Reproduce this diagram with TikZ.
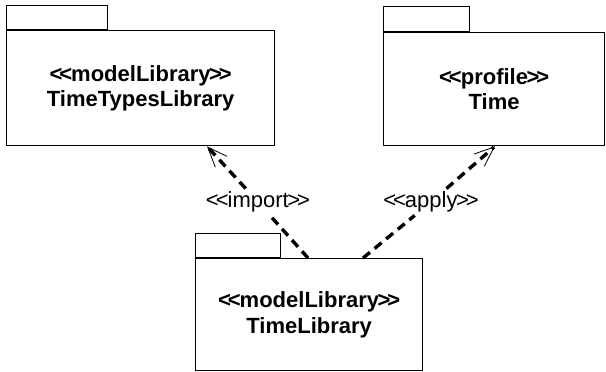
\documentclass[tikz,border=0pt]{standalone}
\usepackage{fontspec}
\setmainfont{Liberation Sans}
\usetikzlibrary{arrows.meta,calc}
\newcommand\stOpen{<\kern-3pt<\kern-1pt}
\newcommand\stClose{\kern-1.5pt>\kern-3pt>}
\begin{document}
\begin{tikzpicture}[x=1pt,y=-1pt,
  body/.style={draw,line width=1.3pt,inner sep=0pt,anchor=north west,align=center,
    font=\bfseries\fontsize{22}{25.5}\selectfont},
  tabbox/.style={draw,line width=1.1pt,inner sep=0pt,anchor=south west},
  dep/.style={line width=3.4pt,dash pattern=on 9pt off 6pt},
  deparrow/.style={dep,-{Straight Barb[length=20pt,width=16pt,line width=0.8pt]}},
  lbl/.style={font=\fontsize{22}{24}\selectfont,inner sep=3pt}]
\useasboundingbox (0,0) rectangle (606,372);
% packages
\node[body,minimum width=268pt,minimum height=115pt] (b1) at (6,30)
  {\stOpen modelLibrary\stClose\\TimeTypesLibrary};
\node[tabbox,minimum width=101pt,minimum height=24pt] (t1) at (b1.north west) {};
\node[body,minimum width=221pt,minimum height=113pt] (b2) at (383,32)
  {\stOpen profile\stClose\\Time};
\node[tabbox,minimum width=86pt,minimum height=25pt] (t2) at (b2.north west) {};
\node[body,minimum width=227pt,minimum height=112pt] (b3) at (195,258)
  {\stOpen modelLibrary\stClose\\TimeLibrary};
\node[tabbox,minimum width=85pt,minimum height=24pt] (t3) at (b3.north west) {};
% dependencies
\node[lbl] (li) at (258,202) {\stOpen import\stClose};
\node[lbl] (la) at (431,202) {\stOpen apply\stClose};
\draw[dep] ([xshift=113pt]b3.north west) -- (li);
\draw[deparrow] (li) -- ([xshift=201pt]b1.south west);
\draw[dep] ([xshift=168pt]b3.north west) -- (la);
\draw[deparrow] (la) -- ([xshift=112pt]b2.south west);
\end{tikzpicture}
\end{document}
